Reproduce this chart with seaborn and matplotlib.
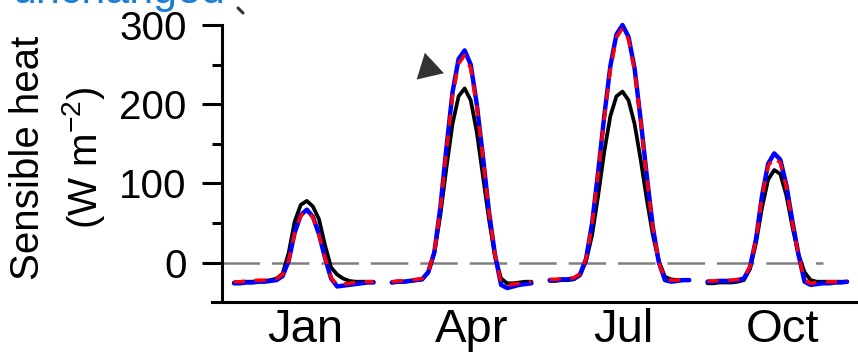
import matplotlib
matplotlib.use("Agg")
import matplotlib.pyplot as plt
from matplotlib.lines import Line2D
import numpy as np
import pandas as pd
import seaborn as sns
from matplotlib.ticker import FixedLocator

# ---------------- data ----------------
months = ["Jan", "Apr", "Jul", "Oct"]
hours = list(range(24))
month_offset = [0, 26, 52, 78]          # position of each month's 24-h block on the x axis
label_pos = [11.7, 39.2, 64.1, 90.4]    # month tick-label positions
y_ticks = [0, 100, 200, 300]
y_minor = [50, 150, 250]

black_jan = [-25, -25, -24, -24, -23, -23, -22, -20, -14, 12, 52, 73, 78, 71, 55, 22, -6, -15, -20, -23, -24, -24, -24, -24]
blue_jan = [-26, -26, -25, -25, -24, -24, -23, -22, -17, 2, 38, 60, 67, 58, 36, 6, -20, -30, -29, -28, -27, -26, -25, -25]
red_jan = [-24, -24, -23, -23, -22, -22, -21, -20, -15, 3, 37, 59, 66, 57, 35, 6, -19, -28, -27, -26, -25, -24, -24, -24]

black_apr = [-25, -24, -24, -23, -22, -21, -12, 12, 60, 120, 175, 210, 220, 205, 165, 110, 55, 8, -20, -26, -26, -25, -24, -24]
blue_apr = [-25, -24, -24, -23, -22, -21, -12, 13, 70, 145, 215, 257, 268, 250, 200, 135, 65, 10, -28, -32, -30, -28, -27, -26]
red_apr = [-24, -23, -23, -22, -21, -20, -11, 13, 68, 142, 210, 251, 262, 245, 197, 133, 64, 10, -25, -29, -27, -26, -25, -24]

black_jul = [-23, -23, -22, -22, -21, -16, 2, 35, 85, 140, 185, 210, 216, 205, 175, 130, 80, 35, 2, -18, -21, -22, -22, -22]
blue_jul = [-22, -22, -21, -21, -20, -15, 5, 50, 115, 185, 248, 288, 300, 285, 245, 180, 110, 45, 0, -22, -24, -23, -22, -22]
red_jul = [-21, -21, -20, -20, -19, -14, 5, 49, 113, 182, 244, 284, 296, 282, 242, 178, 108, 44, 0, -20, -22, -22, -21, -21]

black_oct = [-26, -26, -25, -25, -25, -24, -22, -8, 25, 70, 105, 117, 112, 85, 45, 10, -12, -22, -24, -24, -24, -24, -24, -24]
blue_oct = [-24, -24, -23, -23, -23, -22, -20, -6, 30, 85, 125, 138, 130, 98, 52, 10, -24, -28, -27, -26, -26, -25, -25, -24]
red_oct = [-23, -23, -22, -22, -22, -21, -19, -5, 29, 83, 122, 133, 126, 95, 50, 9, -22, -26, -25, -25, -24, -24, -24, -23]

series = {
    "black": [black_jan, black_apr, black_jul, black_oct],
    "blue": [blue_jan, blue_apr, blue_jul, blue_oct],
    "red": [red_jan, red_apr, red_jul, red_oct],
}

rows = []
for name, per_month in series.items():
    for m, off, vals in zip(months, month_offset, per_month):
        for h, v in zip(hours, vals):
            rows.append({"series": name, "month": m, "x": off + h, "value": v})
df = pd.DataFrame(rows)

# ---------------- style ----------------
sns.set_style("white")
plt.rcParams["font.family"] = ["Liberation Sans", "DejaVu Sans"]
plt.rcParams["mathtext.fontset"] = "custom"
plt.rcParams["mathtext.rm"] = "Liberation Sans"
plt.rcParams["mathtext.it"] = "Liberation Sans:italic"
plt.rcParams["mathtext.default"] = "regular"
plt.rcParams["lines.scale_dashes"] = False
plt.rcParams["text.color"] = "black"
plt.rcParams["axes.labelcolor"] = "black"
plt.rcParams["xtick.color"] = "black"
plt.rcParams["ytick.color"] = "black"
plt.rcParams["lines.solid_joinstyle"] = "round"
plt.rcParams["lines.dash_joinstyle"] = "round"

W, H = 858, 357
fig = plt.figure(figsize=(W / 100, H / 100), dpi=100)
ax = fig.add_axes([212 / W, 1 - 302.3 / H, 646 / W, 302.3 / H])

ax.hlines(0, -2, 97, colors="#808080", lw=1.8, linestyles=(0, (27, 8.6)), zorder=1)

styles = {
    "black": dict(color="black", lw=2.7, zorder=2),
    "blue": dict(color="#0000ff", lw=3.2, zorder=3),
    "red": dict(color="#ff0000", lw=2.5, zorder=4, linestyle=(0, (8, 7))),
}
for name, kw in styles.items():
    sub = df[df["series"] == name]
    sns.lineplot(data=sub, x="x", y="value", units="month", estimator=None,
                 ax=ax, legend=False, **kw)

# triangle pointer near the April peak
ax.plot([32.0], [246], marker=(3, 0, -107), ms=23.3, mew=0, color="#333333",
        linestyle="none", zorder=5)

ax.set_xlim(-3.62, 102.8)
ax.set_ylim(-50, 331.6)

for s in ["top", "right"]:
    ax.spines[s].set_visible(False)
ax.spines["left"].set_position(("data", -2))
ax.spines["left"].set_bounds(-50, 300)
for s in ["left", "bottom"]:
    ax.spines[s].set_linewidth(2.2)
    ax.spines[s].set_color("black")

ax.set_yticks(y_ticks)
ax.yaxis.set_minor_locator(FixedLocator(y_minor))
ax.tick_params(axis="y", which="major", length=14.4, width=2.2, pad=11,
               labelsize=29, left=True, color="black", labelcolor="black")
ax.tick_params(axis="y", which="minor", length=7.2, width=2.2, left=True, color="black")
ax.set_xticks(label_pos)
ax.set_xticklabels(months)
ax.tick_params(axis="x", length=0, pad=4, labelsize=34, labelcolor="black")

ax.set_xlabel("")
ax.set_ylabel("Sensible heat\n(W m$^{-2}$)", fontsize=29, linespacing=1.35, color="black")
ax.yaxis.set_label_coords(-0.1625, 0.477)

# cut-off caption at the top edge
fig.text(225 / W, 1 - 3 / H, "unchanged", ha="right", va="baseline",
         color="#1a7fd4", fontsize=31)
fig.add_artist(Line2D([238 / W, 243 / W], [1 - 8 / H, 1 - 13 / H],
                      color="#333333", lw=2.2))

fig.savefig("out.png", dpi=100)
